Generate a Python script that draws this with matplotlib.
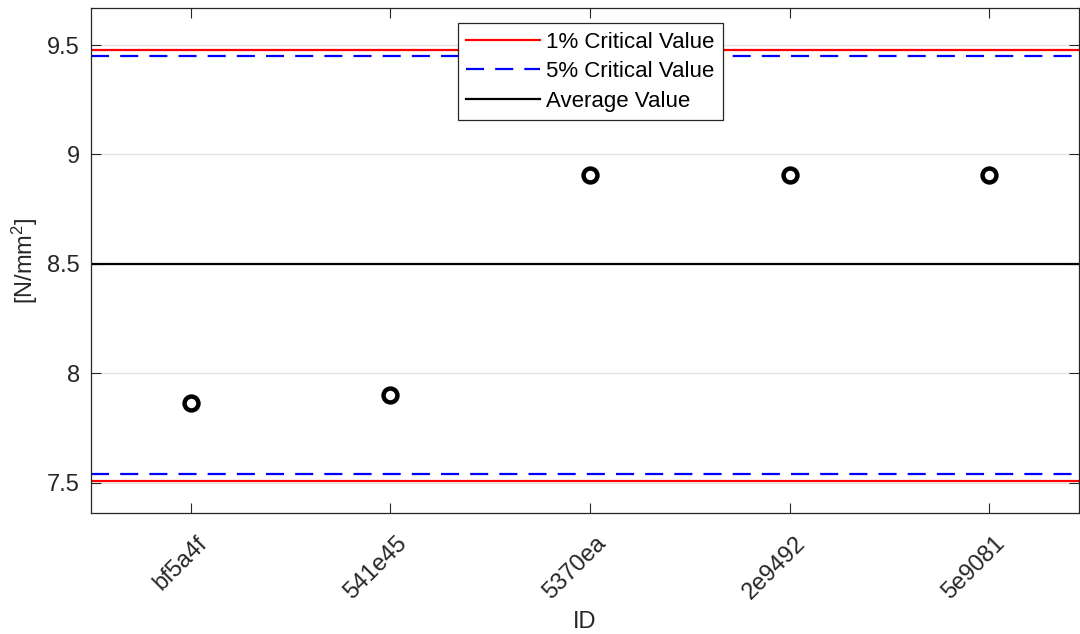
import matplotlib.pyplot as plt
from matplotlib.transforms import ScaledTranslation

plt.rcParams['font.family'] = ['Liberation Sans', 'DejaVu Sans']
plt.rcParams['mathtext.default'] = 'regular'
plt.rcParams['lines.scale_dashes'] = False

# Data
ids = ['bf5a4f', '541e45', '5370ea', '2e9492', '5e9081']
values = [7.866, 7.901, 8.905, 8.905, 8.905]
crit_1pct = [9.478, 7.51]
crit_5pct = [9.45, 7.539]
average = 8.5

dark = '#262626'

fig = plt.figure(figsize=(10.8, 6.34), dpi=100)
ax = fig.add_axes([0.0843, 0.1909, 0.9147, 0.7961])

x = range(1, len(ids) + 1)

# critical and average lines
for i, v in enumerate(crit_1pct):
    ax.axhline(v, color='red', lw=1.6, label='1% Critical Value' if i == 0 else None)
for i, v in enumerate(crit_5pct):
    ax.axhline(v, color='blue', lw=1.6, dashes=(13, 8),
               label='5% Critical Value' if i == 0 else None)
ax.axhline(average, color='black', lw=1.6, label='Average Value')

ax.plot(x, values, 'o', ms=10, mfc='white', mec='black', mew=3.2, zorder=5)

ax.set_xlim(0.5, 5.45)
ax.set_ylim(7.362, 9.668)
ax.set_xticks(list(x))
ax.set_xticklabels(ids, rotation=45, ha='right', va='top', rotation_mode='anchor')
ax.set_yticks([7.5, 8, 8.5, 9, 9.5])
ax.set_yticklabels(['7.5', '8', '8.5', '9', '9.5'])

ax.tick_params(direction='in', length=7, width=0.8, colors=dark, labelsize=17,
               top=True, right=True)
ax.tick_params(axis='x', pad=14)
ax.tick_params(axis='y', pad=8)
# shift rotated labels slightly to the right like the original
shift = ScaledTranslation(5 / 100, 0, fig.dpi_scale_trans)
for lab in ax.get_xticklabels():
    lab.set_transform(lab.get_transform() + shift)

for s in ax.spines.values():
    s.set_color(dark)
    s.set_linewidth(0.9)

ax.yaxis.grid(True, color='#e3e3e3', lw=0.9)
ax.set_axisbelow(True)

ax.set_xlabel('ID', fontsize=17, color=dark, labelpad=5)
ax.set_ylabel('[N/mm$^2$]', fontsize=17, color=dark, labelpad=5)

leg = ax.legend(loc='upper left', bbox_to_anchor=(0.3715, 0.970), borderaxespad=0,
                fontsize=16, handlelength=3.3, handletextpad=0.28, borderpad=0.38,
                labelspacing=0.38, fancybox=False, framealpha=1, edgecolor=dark)
leg.get_frame().set_linewidth(0.9)

fig.savefig('out.png', dpi=100)
